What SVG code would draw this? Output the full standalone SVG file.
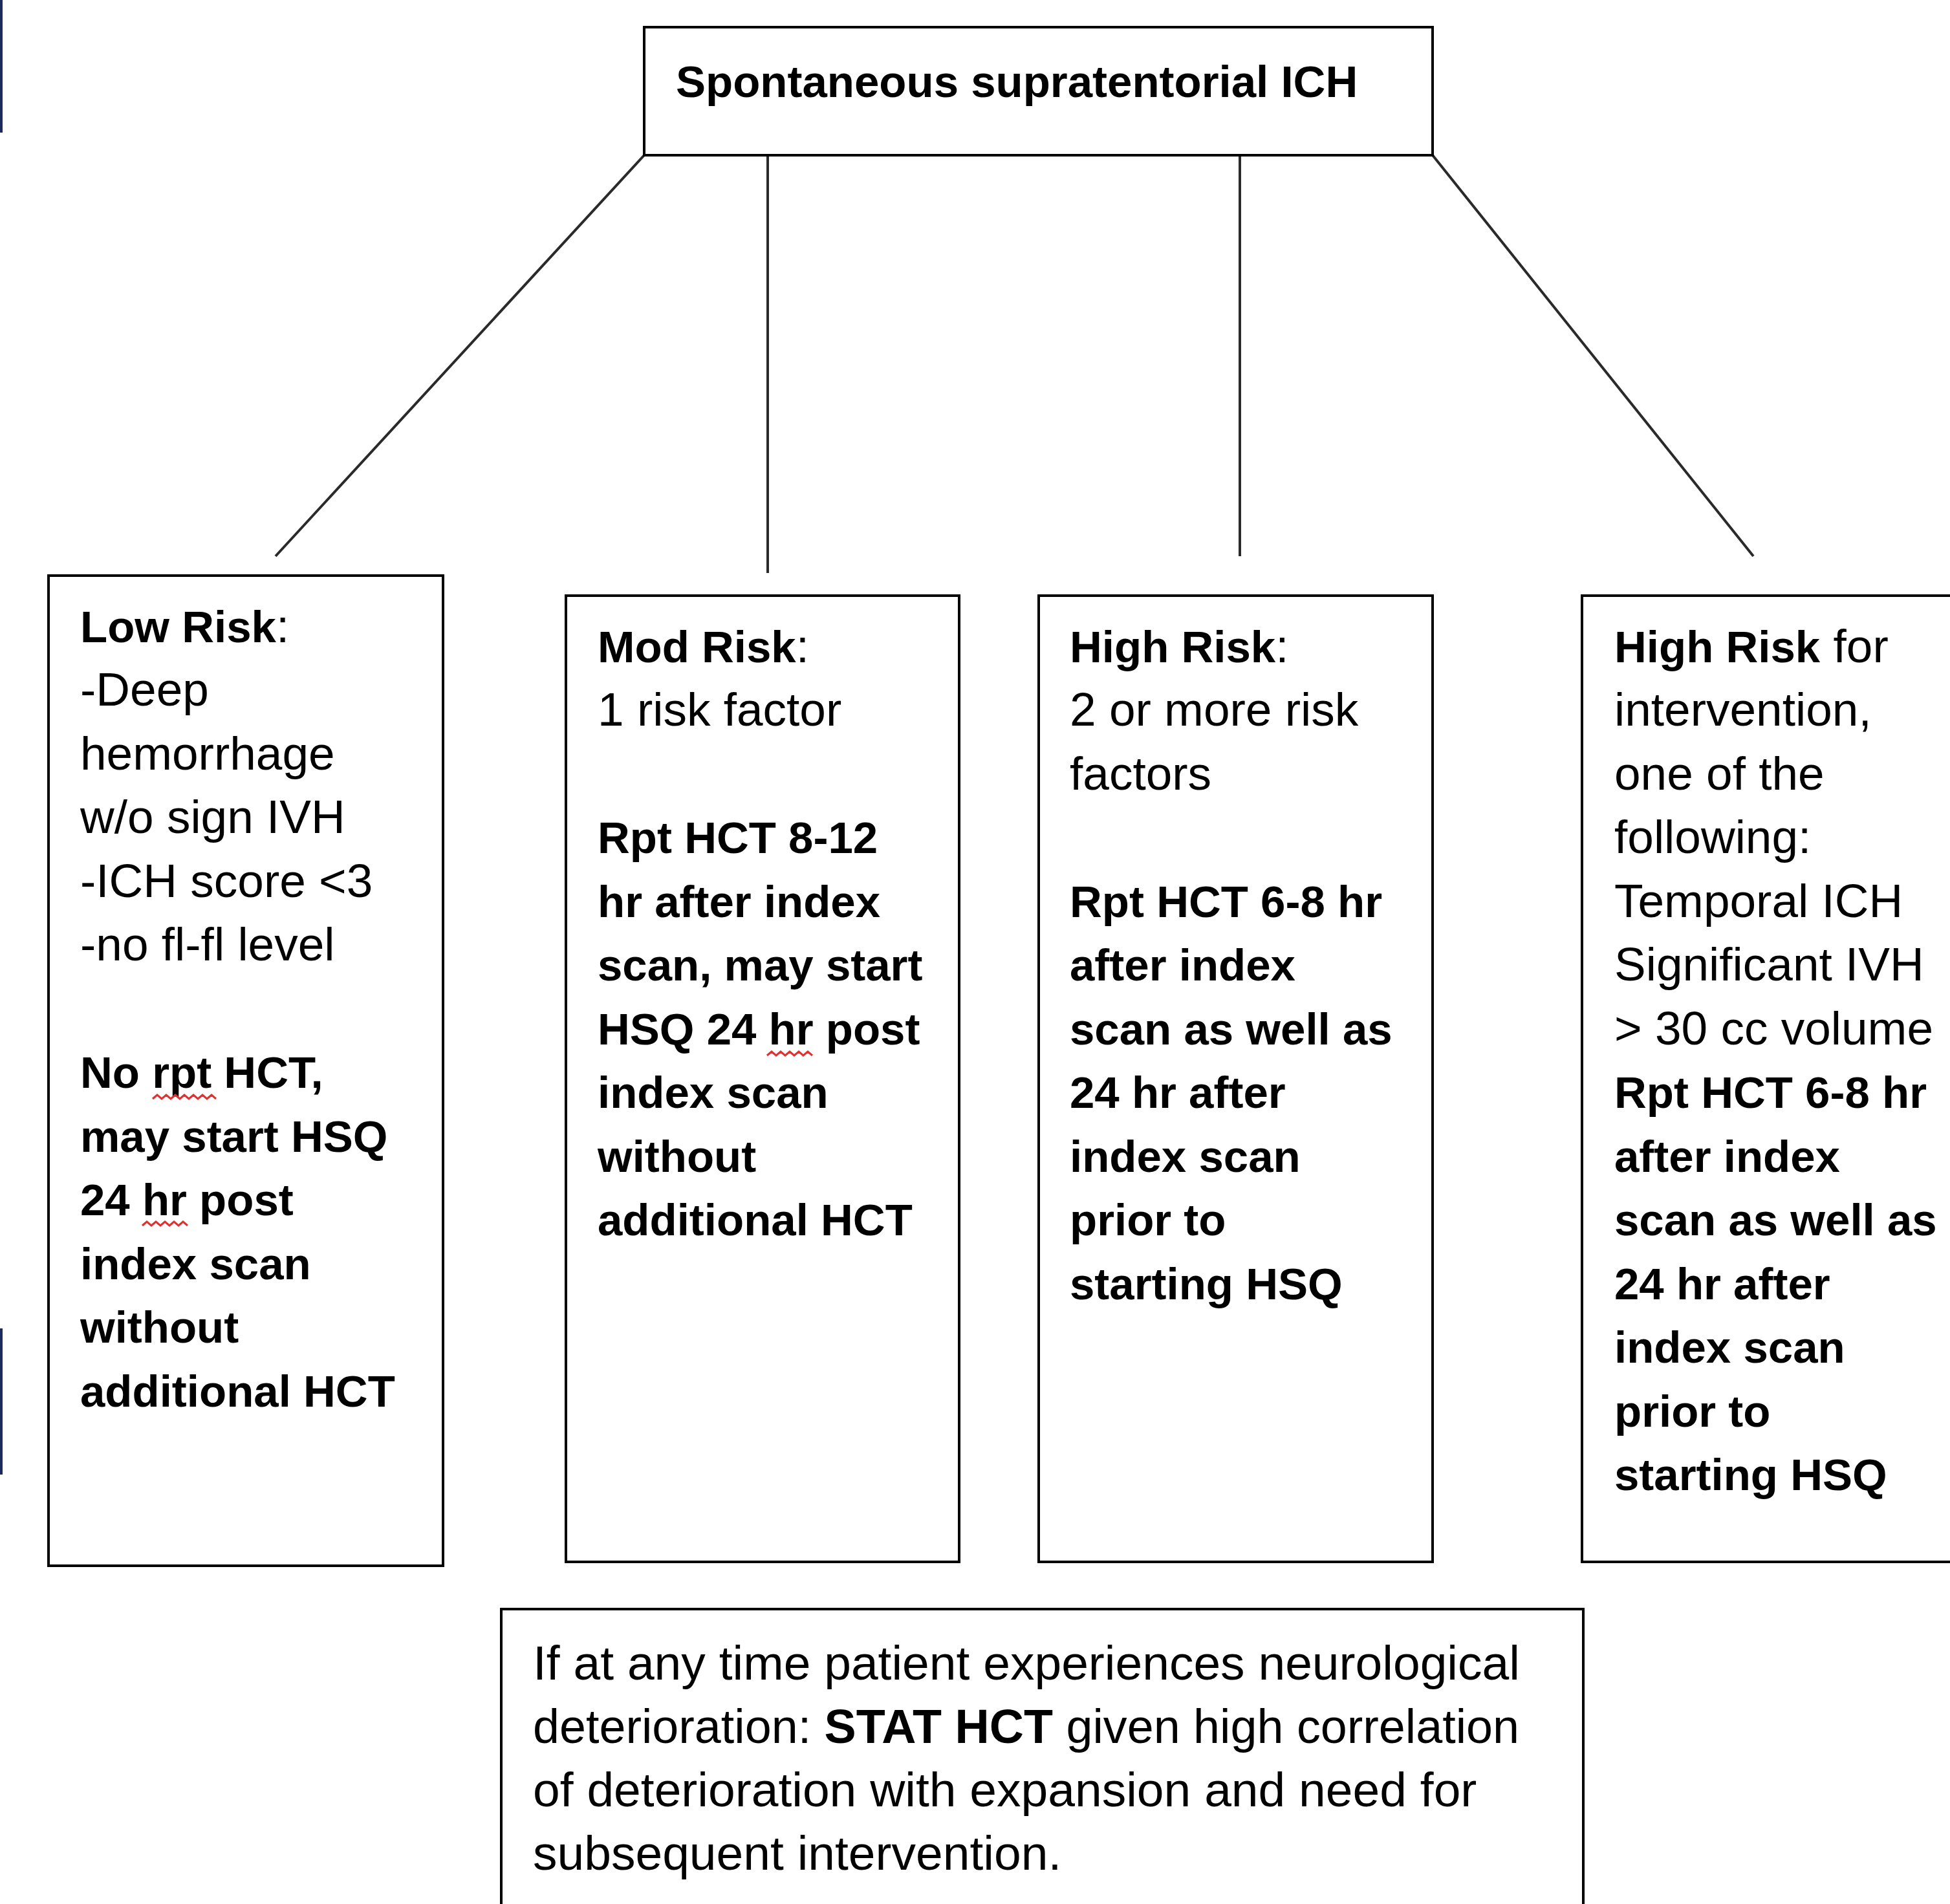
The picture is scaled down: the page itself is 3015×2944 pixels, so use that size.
<svg xmlns="http://www.w3.org/2000/svg" width="3015" height="2944" viewBox="0 0 3015 2944">
<style>
.box{fill:#ffffff;stroke:#000000;stroke-width:4}
.con{fill:none;stroke:#2a2a2a;stroke-width:4}
text{font-family:"Liberation Sans",Arial,sans-serif;fill:#000000}
.b{font-weight:bold;font-size:69px}
.r{font-weight:normal;font-size:73px}
.bt{font-size:75px}
.sq{fill:none;stroke:#e03030;stroke-width:3}
</style>
<rect width="3015" height="2944" fill="#ffffff"/>
<rect x="0" y="0" width="4" height="205" fill="#1b2a5c"/>
<rect x="0" y="2054" width="4" height="226" fill="#1b2a5c"/>
<g id="connectors">
<line class="con" x1="996" y1="240" x2="426" y2="860"/>
<line class="con" x1="1187" y1="240" x2="1187" y2="886"/>
<line class="con" x1="1917" y1="240" x2="1917" y2="860"/>
<line class="con" x1="2215" y1="240" x2="2711" y2="860"/>
</g>
<g id="top">
<rect class="box" x="996" y="42" width="1219" height="198"/>
<text class="b" x="1045" y="150" font-size="69.5">Spontaneous supratentorial ICH</text>
</g>
<g id="low">
<rect class="box" x="75" y="890" width="610" height="1531"/>
<text x="124" y="993"><tspan class="b">Low Risk</tspan><tspan class="r">:</tspan></text>
<text class="r" x="124" y="1091">-Deep</text>
<text class="r" x="124" y="1190">hemorrhage</text>
<text class="r" x="124" y="1288">w/o sign IVH</text>
<text class="r" x="124" y="1387">-ICH score &lt;3</text>
<text class="r" x="124" y="1485">-no fl-fl level</text>
<text class="b" x="124" y="1682">No rpt HCT,</text>
<text class="b" x="124" y="1781">may start HSQ</text>
<text class="b" x="124" y="1879">24 hr post</text>
<text class="b" x="124" y="1978">index scan</text>
<text class="b" x="124" y="2076">without</text>
<text class="b" x="124" y="2175">additional HCT</text>
<path class="sq" d="M236 1699 l7 -6 l7 6 l7 -6 l7 6 l7 -6 l7 6 l7 -6 l7 6 l7 -6 l7 6 l7 -6 l7 6 l7 -6 l7 6"/>
<path class="sq" d="M220 1895 l7 -6 l7 6 l7 -6 l7 6 l7 -6 l7 6 l7 -6 l7 6 l7 -6 l7 6"/>
</g>
<g id="mod">
<rect class="box" x="875" y="921" width="608" height="1494"/>
<text x="924" y="1024"><tspan class="b">Mod Risk</tspan><tspan class="r">:</tspan></text>
<text class="r" x="924" y="1122">1 risk factor</text>
<text class="b" x="924" y="1319">Rpt HCT 8-12</text>
<text class="b" x="924" y="1418">hr after index</text>
<text class="b" x="924" y="1516">scan, may start</text>
<text class="b" x="924" y="1615">HSQ 24 hr post</text>
<text class="b" x="924" y="1713">index scan</text>
<text class="b" x="924" y="1812">without</text>
<text class="b" x="924" y="1910">additional HCT</text>
<path class="sq" d="M1186 1632 l7 -6 l7 6 l7 -6 l7 6 l7 -6 l7 6 l7 -6 l7 6 l7 -6 l7 6"/>
</g>
<g id="high">
<rect class="box" x="1606" y="921" width="609" height="1494"/>
<text x="1654" y="1024"><tspan class="b">High Risk</tspan><tspan class="r">:</tspan></text>
<text class="r" x="1654" y="1122">2 or more risk</text>
<text class="r" x="1654" y="1221">factors</text>
<text class="b" x="1654" y="1418">Rpt HCT 6-8 hr</text>
<text class="b" x="1654" y="1516">after index</text>
<text class="b" x="1654" y="1615">scan as well as</text>
<text class="b" x="1654" y="1713">24 hr after</text>
<text class="b" x="1654" y="1812">index scan</text>
<text class="b" x="1654" y="1910">prior to</text>
<text class="b" x="1654" y="2009">starting HSQ</text>
</g>
<g id="intervention">
<rect class="box" x="2446" y="921" width="600" height="1494"/>
<text x="2496" y="1024"><tspan class="b">High Risk</tspan><tspan class="r"> for</tspan></text>
<text class="r" x="2496" y="1122">intervention,</text>
<text class="r" x="2496" y="1221">one of the</text>
<text class="r" x="2496" y="1319">following:</text>
<text class="r" x="2496" y="1418">Temporal ICH</text>
<text class="r" x="2496" y="1516">Significant IVH</text>
<text class="r" x="2496" y="1615" font-size="72">&gt; 30 cc volume</text>
<text class="b" x="2496" y="1713">Rpt HCT 6-8 hr</text>
<text class="b" x="2496" y="1812">after index</text>
<text class="b" x="2496" y="1910" font-size="68">scan as well as</text>
<text class="b" x="2496" y="2009">24 hr after</text>
<text class="b" x="2496" y="2107">index scan</text>
<text class="b" x="2496" y="2206">prior to</text>
<text class="b" x="2496" y="2304">starting HSQ</text>
</g>
<g id="note">
<rect class="box" x="775" y="2488" width="1673" height="480"/>
<text class="bt" x="824" y="2597">If at any time patient experiences neurological</text>
<text class="bt" x="824" y="2695" textLength="1525" lengthAdjust="spacingAndGlyphs">deterioration: <tspan font-weight="bold">STAT HCT</tspan> given high correlation</text>
<text class="bt" x="824" y="2793">of deterioration with expansion and need for</text>
<text class="bt" x="824" y="2891">subsequent intervention.</text>
</g>
</svg>
